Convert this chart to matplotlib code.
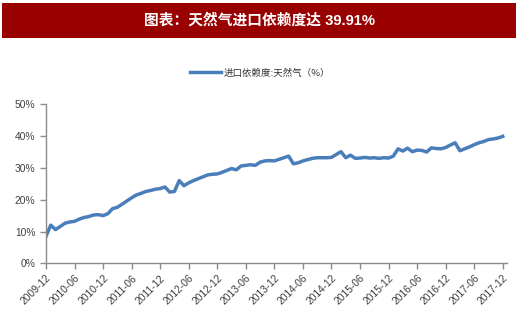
import numpy as np
import matplotlib
matplotlib.use('Agg')
import matplotlib.pyplot as plt
from matplotlib.patches import Rectangle

plt.rcParams['font.family'] = ['Liberation Sans', 'Noto Sans CJK SC', 'DejaVu Sans']

# 天然气进口依赖度，月度，2009-12 至 2017-12
dependency = [
    8.5, 12.0, 10.6, 11.6, 12.6, 13.0, 13.2, 13.9, 14.4, 14.7, 15.2, 15.3,
    15.0, 15.6, 17.2, 17.6, 18.6, 19.6, 20.6, 21.5, 22.0, 22.6, 22.9, 23.3,
    23.5, 24.0, 22.4, 22.6, 26.0, 24.4, 25.3, 26.0, 26.6, 27.2, 27.8, 28.0,
    28.1, 28.6, 29.2, 29.8, 29.4, 30.6, 30.8, 31.0, 30.8, 31.8, 32.2, 32.3,
    32.2, 32.7, 33.2, 33.7, 31.3, 31.6, 32.2, 32.6, 33.0, 33.2, 33.2, 33.2,
    33.3, 34.2, 35.1, 33.2, 34.0, 33.0, 33.1, 33.3, 33.1, 33.2, 33.0, 33.2,
    33.1, 33.7, 36.0, 35.3, 36.2, 35.1, 35.6, 35.5, 35.0, 36.3, 36.1, 36.0,
    36.4, 37.2, 37.9, 35.4, 36.0, 36.6, 37.3, 37.9, 38.3, 38.9, 39.1, 39.4,
    39.91,
]
tick_labels = ['2009-12', '2010-06', '2010-12', '2011-06', '2011-12', '2012-06',
               '2012-12', '2013-06', '2013-12', '2014-06', '2014-12', '2015-06',
               '2015-12', '2016-06', '2016-12', '2017-06', '2017-12']
y_ticks = [0, 10, 20, 30, 40, 50]

fig = plt.figure(figsize=(5.2, 3.27), dpi=100)

# 标题栏
fig.patches.append(Rectangle((2 / 520, 1 - 38 / 327), 514 / 520, 35 / 327,
                             transform=fig.transFigure, facecolor='#990000',
                             edgecolor='none'))
fig.text(0.5, 1 - 20.5 / 327, '图表：天然气进口依赖度达 39.91%', color='white',
         fontsize=10.6, fontweight='bold', ha='center', va='center',
         family=['Liberation Sans', 'Noto Sans CJK SC', 'DejaVu Sans'])

ax = fig.add_axes([46 / 520, 1 - 263.3 / 327, 461 / 520, 159 / 327])
months = np.arange(len(dependency))
ax.plot(months, dependency, color='#4a7ebb', lw=2.5, solid_joinstyle='round',
        label='进口依赖度:天然气（%）')

ax.set_xlim(0, 96.9)
ax.set_ylim(0, 50)
ax.set_xticks(np.arange(0, 97, 6))
ax.set_xticklabels(tick_labels, rotation=45, ha='right', va='top',
                   rotation_mode='anchor', fontsize=7.4, color='#404040')
ax.set_yticks(y_ticks)
ax.set_yticklabels([f'{v}%' for v in y_ticks], fontsize=7.4, color='#404040')

for side in ['top', 'right']:
    ax.spines[side].set_visible(False)
for side in ['left', 'bottom']:
    ax.spines[side].set_color('#8c8c8c')
    ax.spines[side].set_linewidth(1.0)
ax.tick_params(axis='both', colors='#8c8c8c', length=4, width=1.0,
               labelcolor='#404040')
ax.tick_params(axis='x', pad=3)

leg = fig.legend(loc='center', bbox_to_anchor=(0.5, 1 - 73 / 327), frameon=False,
                 handlelength=3.3, handletextpad=0.3,
                 prop={'family': ['Noto Sans CJK SC', 'DejaVu Sans'], 'size': 6.8})
for t in leg.get_texts():
    t.set_color('#333333')

fig.savefig('out.png', dpi=100)
